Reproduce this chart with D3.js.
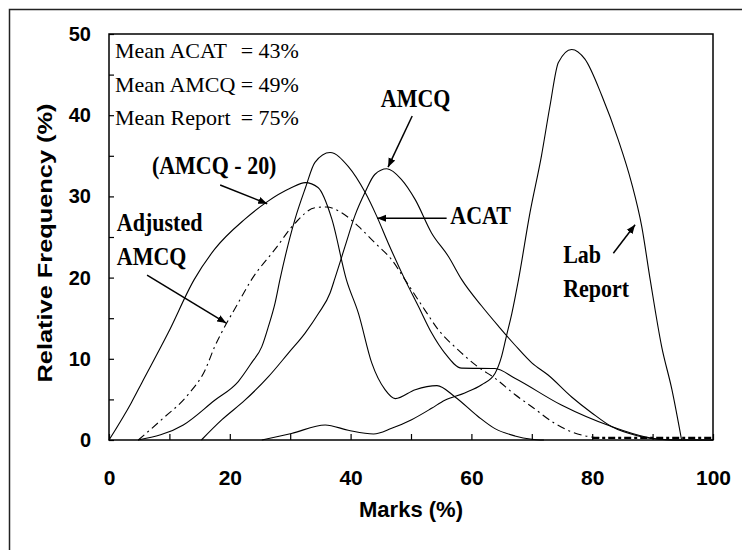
<!DOCTYPE html>
<html>
<head>
<meta charset="utf-8">
<script src="https://cdn.jsdelivr.net/npm/d3@7"></script>
<style>
  body { margin: 0; background: #fff; }
  svg { display: block; }
</style>
</head>
<body>
<div id="app"></div>
<script>
// curves: [marks, relative frequency]
const amcqMinus20 = [[0,0],[3.7,4.6],[5.4,7],[9.8,13.2],[14.1,19.75],[17.5,23.5],[22.5,27.2],[26.1,29.3],[30,31],[32.5,31.7],[34.6,31.1],[36.9,27.2],[39.3,19.75],[41.3,15.6],[43.5,9.5],[45.7,6.2],[47.4,5.1],[50.7,6.2],[54.3,6.7],[57.3,5.3],[61.1,2.9],[63.9,1.4],[67.2,0.5],[70,0.1],[72,0]];
const acat = [[4.8,0],[12.3,1.85],[17.5,4.9],[21.4,7.2],[23.6,9.5],[25.3,11.5],[26.4,14],[27.5,16.9],[28.3,19.75],[30.8,27.2],[32.5,31],[34.1,34.2],[36.6,35.4],[39.6,33.7],[42.4,30.5],[44.3,27.6],[46.2,24.3],[49,19.75],[51.2,16.5],[53.4,13.2],[55.6,10.7],[58.4,8.85],[63.9,8.8],[67.2,7.6],[74.9,4.3],[83.2,1.65],[88.7,0.4],[93,0],[100,0]];
const amcq = [[15.3,0],[18.7,2.5],[22.5,4.9],[26.4,7.8],[29.7,10.7],[32.5,13.2],[34.7,15.6],[36.6,18.1],[37.4,19.9],[39.1,23.9],[40.7,27.6],[42.4,30.5],[44,32.7],[46,33.4],[48.4,32.1],[50.7,29.6],[53.4,25.5],[56.2,22.6],[58.4,19.75],[61.7,16.5],[64.5,14],[67.2,11.7],[70,9.5],[72.7,8],[76.6,5.3],[80,3.3],[83.2,1.65],[87.6,0.5],[91,0.1],[95,0],[100,0]];
const adjustedAmcq = [[4.85,0],[8.7,2.5],[13.1,5.6],[15.9,8.6],[17.5,11.5],[18.9,13.6],[21.1,16.5],[23.6,19.75],[27.5,23.5],[30.8,26.7],[34.1,28.6],[36,28.7],[38.5,28],[41.3,26.3],[44,24.3],[46.8,22.2],[49,19.75],[52.3,16],[54.5,13.6],[57.8,11.1],[61.1,9],[63.9,7.6],[67.2,5.6],[70,4.1],[73.8,2.05],[76.6,1],[79.6,0.4],[82,0.25]];
const adjustedTail = [[80,0.25],[100,0.25]];
const labReport = [[25.3,0],[30.2,0.8],[35.8,1.85],[39.6,1.2],[43.8,0.74],[46.8,1.44],[50.1,2.5],[53.4,3.9],[55.6,4.9],[58.9,5.8],[61.7,6.8],[63.9,8.2],[65,10.3],[65.8,12.8],[66.7,15.6],[67.8,19.75],[69.7,28],[71.6,35],[73,41.1],[74.4,46.5],[76.6,48.1],[78.8,46.9],[81.6,42.4],[84.3,37],[86.5,31.7],[88.2,26.3],[89.6,19.75],[91.5,11.5],[93.2,6.2],[94.8,0]];

const xTicks = [0,10,20,30,40,50,60,70,80,90,100];
const yTicks = [0,5,10,15,20,25,30,35,40,45,50];

const meanLines = [
  { name: "Mean ACAT", val: "= 43%" },
  { name: "Mean AMCQ", val: "= 49%" },
  { name: "Mean Report", val: "= 75%" }
];

// annotation labels and arrows, in data units
const labels = [
  { text: "(AMCQ - 20)", m: 7.1, v: 32.8 },
  { text: "Adjusted", m: 1.3, v: 25.8 },
  { text: "AMCQ", m: 1.3, v: 21.6 },
  { text: "AMCQ", m: 45, v: 41 },
  { text: "ACAT", m: 56.5, v: 26.6 },
  { text: "Lab", m: 75.2, v: 21.8 },
  { text: "Report", m: 75.2, v: 17.6 }
];
const arrows = [
  { from: [18.4, 31.4], to: [26.2, 29.1] },
  { from: [6.3, 20.3], to: [19.4, 14.4] },
  { from: [50.2, 39.9], to: [46.2, 33.6] },
  { from: [55.9, 27.3], to: [44.4, 27.3] },
  { from: [83.5, 23], to: [87.1, 26.5] }
];

const W = 742, H = 550;
const svg = d3.select("#app").append("svg")
  .attr("width", W)
  .attr("height", H)
  .style("background", "#fff");

// outer frame (runs off the right and bottom)
svg.append("rect")
  .attr("x", 9.5).attr("y", 9.5)
  .attr("width", 800).attr("height", 600)
  .attr("fill", "none").attr("stroke", "#222").attr("stroke-width", 1.5);

const x = d3.scaleLinear().domain([0, 100]).range([109, 713]);
const y = d3.scaleLinear().domain([0, 50]).range([440, 34]);

const sans = "'Liberation Sans', Arial, sans-serif";
const serif = "'Liberation Serif', 'Times New Roman', serif";

svg.append("defs").append("marker")
  .attr("id", "head")
  .attr("viewBox", "0 0 10 10")
  .attr("refX", 10).attr("refY", 5)
  .attr("markerWidth", 9).attr("markerHeight", 9)
  .attr("markerUnits", "userSpaceOnUse")
  .attr("orient", "auto")
  .append("path")
  .attr("d", "M0,1 L10,5 L0,9 Z")
  .attr("fill", "#000");

// axes
const xAxis = svg.append("g")
  .attr("transform", `translate(0,${y(0)})`)
  .call(d3.axisBottom(x).tickValues(xTicks).tickSize(-6).tickPadding(30)
    .tickFormat(d => d % 20 === 0 ? d : ""));
xAxis.select(".domain").remove();
xAxis.selectAll("line").attr("stroke", "#000").attr("stroke-width", 1.2);
xAxis.selectAll("text")
  .attr("font-family", sans).attr("font-weight", "bold")
  .attr("font-size", 21).attr("fill", "#000");

const yAxis = svg.append("g")
  .attr("transform", `translate(${x(0)},0)`)
  .call(d3.axisLeft(y).tickValues(yTicks).tickSize(-5).tickPadding(18)
    .tickFormat(d => d % 10 === 0 ? d : ""));
yAxis.select(".domain").remove();
yAxis.selectAll("line").attr("stroke", "#000").attr("stroke-width", 1.2);
yAxis.selectAll("text")
  .attr("font-family", sans).attr("font-weight", "bold")
  .attr("font-size", 20).attr("fill", "#000");

// plot frame
svg.append("rect")
  .attr("x", x(0)).attr("y", y(50))
  .attr("width", x(100) - x(0)).attr("height", y(0) - y(50))
  .attr("fill", "none").attr("stroke", "#000").attr("stroke-width", 1.5);

// axis titles
svg.append("text")
  .attr("x", (x(0) + x(100)) / 2).attr("y", 517)
  .attr("text-anchor", "middle")
  .attr("font-family", sans).attr("font-weight", "bold").attr("font-size", 22)
  .text("Marks (%)");

svg.append("text")
  .attr("transform", `translate(52,${(y(0) + y(50)) / 2 + 6}) rotate(-90)`)
  .attr("text-anchor", "middle")
  .attr("font-family", sans).attr("font-weight", "bold").attr("font-size", 21)
  .attr("textLength", 279).attr("lengthAdjust", "spacingAndGlyphs")
  .text("Relative Frequency (%)");

// curves
const line = d3.line()
  .x(d => x(d[0]))
  .y(d => y(d[1]))
  .curve(d3.curveMonotoneX);

const series = [
  { data: amcqMinus20, dash: null, w: 1.1 },
  { data: acat, dash: null, w: 1.1 },
  { data: amcq, dash: null, w: 1.1 },
  { data: labReport, dash: null, w: 1.1 },
  { data: adjustedAmcq, dash: "8,4,2,4", w: 1.1 },
  { data: adjustedTail, dash: "7,3,3,3", w: 2.2 }
];

svg.append("g").selectAll("path")
  .data(series)
  .join("path")
  .attr("d", d => line(d.data))
  .attr("fill", "none")
  .attr("stroke", "#000")
  .attr("stroke-width", d => d.w)
  .attr("stroke-dasharray", d => d.dash);

// mean text block
const meanG = svg.append("g");
meanLines.forEach((d, i) => {
  const by = y(47) + i * 33.4;
  meanG.append("text")
    .attr("x", x(1)).attr("y", by)
    .attr("font-family", serif).attr("font-size", 22)
    .text(d.name);
  meanG.append("text")
    .attr("x", x(21.8)).attr("y", by)
    .attr("font-family", serif).attr("font-size", 22)
    .text(d.val);
});

// annotations (the original type is a little taller than it is wide)
svg.append("g").selectAll("text")
  .data(labels)
  .join("text")
  .attr("transform", d => `translate(${x(d.m)},${y(d.v)}) scale(1,1.12)`)
  .attr("font-family", serif).attr("font-weight", "bold").attr("font-size", 22)
  .text(d => d.text);

svg.append("g").selectAll("line")
  .data(arrows)
  .join("line")
  .attr("x1", d => x(d.from[0])).attr("y1", d => y(d.from[1]))
  .attr("x2", d => x(d.to[0])).attr("y2", d => y(d.to[1]))
  .attr("stroke", "#000").attr("stroke-width", 1.5)
  .attr("marker-end", "url(#head)");
</script>
</body>
</html>
